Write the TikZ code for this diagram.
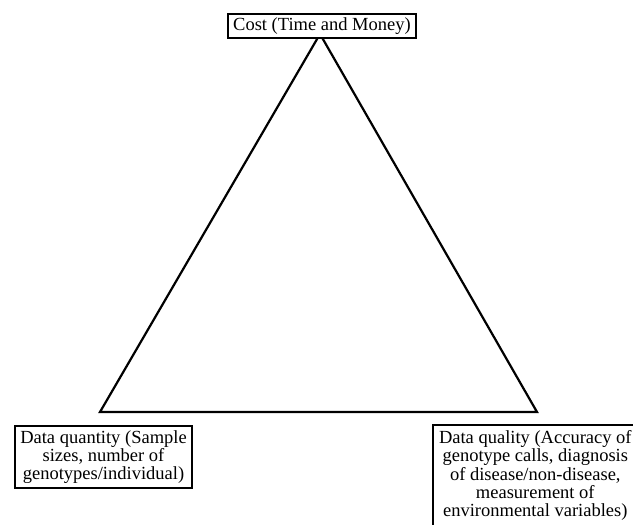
\documentclass[tikz,border=0pt]{standalone}
\usepackage{fontspec}
\setmainfont{Liberation Serif}
\begin{document}
\begin{tikzpicture}[x=1pt,y=-1pt,
  concept/.style={draw=black, line width=2pt, fill=white, align=center,
    font=\fontsize{18.5}{18.3}\selectfont, inner xsep=5pt, inner ysep=4.5pt},
  edge/.style={line width=2.2pt, line join=miter}]
\useasboundingbox (0,0) rectangle (633,525);
\clip (0,0) rectangle (633,525);
\coordinate (apex) at (320,34);
\coordinate (bl) at (100,412);
\coordinate (br) at (537,412);
\draw[edge] (apex) -- (bl) -- (br) -- cycle;
\node[concept, inner ysep=3.5pt] (cost) at (322,26) {Cost (Time and Money)};
\node[concept, anchor=north] (qty) at (103.5,425) {Data quantity (Sample\\sizes, number of\\genotypes/individual)};
\node[concept, draw=none, anchor=north west] (qual) at (433,425) {Data quality (Accuracy of\\genotype calls, diagnosis\\of disease/non-disease,\\measurement of\\environmental variables)};
\draw[line width=2pt] (qual.north west) rectangle ([xshift=30pt,yshift=-30pt]qual.south east);
\end{tikzpicture}
\end{document}
